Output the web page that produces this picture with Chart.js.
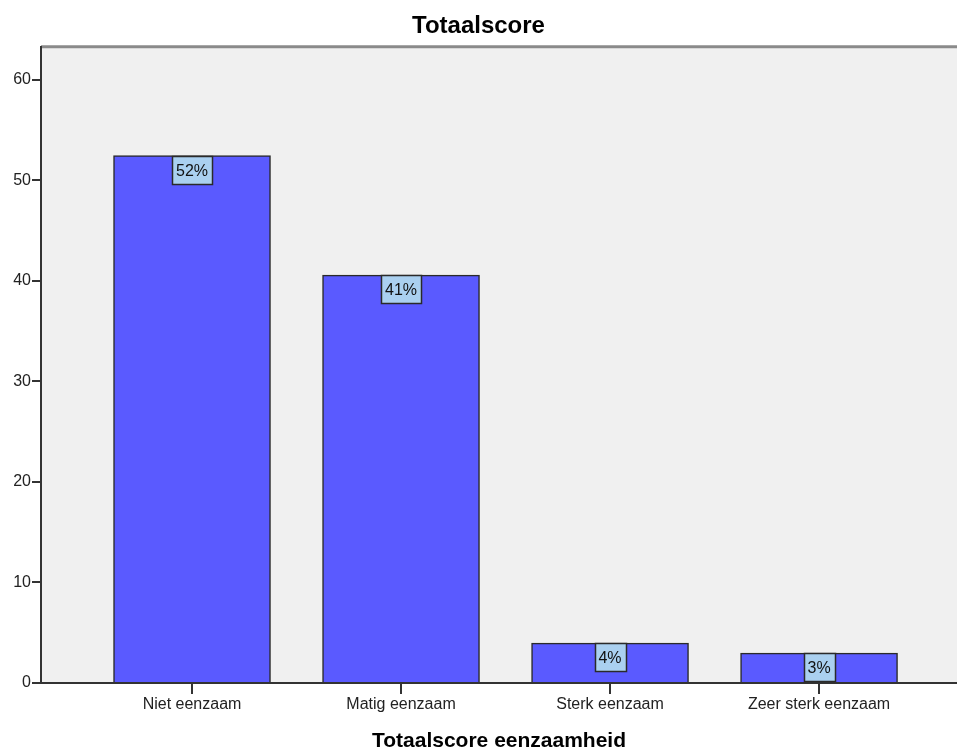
<!DOCTYPE html>
<html>
<head>
<meta charset="utf-8">
<script src="https://cdn.jsdelivr.net/npm/chart.js@4.4.0/dist/chart.umd.min.js"></script>
<style>
	html, body { margin: 0; padding: 0; background: #ffffff; }
	#wrap { width: 957px; height: 754px; }
</style>
</head>
<body>
<div id="wrap"><canvas id="chart"></canvas></div>
<script>
// |-----------|
// |   Data    |
// |-----------|

const categories = ['Niet eenzaam', 'Matig eenzaam', 'Sterk eenzaam', 'Zeer sterk eenzaam']
const percentages = [52.48, 40.59, 3.96, 2.97]
const bar_labels = ['52%', '41%', '4%', '3%']
const y_ticks = [0, 10, 20, 30, 40, 50, 60]

Chart.defaults.font.family = '"Liberation Sans", Arial, sans-serif'
Chart.defaults.font.size = 16
Chart.defaults.color = '#222'

// Fond gris de la zone du graphique + bordure haute
const plot_background = {
	id: 'plot_background',
	beforeDraw(chart) {
		const ctx = chart.ctx
		const a = chart.chartArea
		ctx.save()
		ctx.fillStyle = '#f0f0f0'
		ctx.fillRect(a.left, a.top, a.right - a.left, a.bottom - a.top)
		ctx.strokeStyle = '#8a8a8a'
		ctx.lineWidth = 3
		ctx.beginPath()
		ctx.moveTo(a.left, a.top)
		ctx.lineTo(a.right, a.top)
		ctx.stroke()
		ctx.restore()
	}
}

// Étiquettes de pourcentage en haut des barres
const bar_value_boxes = {
	id: 'bar_value_boxes',
	afterDatasetsDraw(chart) {
		const ctx = chart.ctx
		const meta = chart.getDatasetMeta(0)
		ctx.save()
		ctx.font = '16px "Liberation Sans", Arial, sans-serif'
		ctx.textAlign = 'center'
		ctx.textBaseline = 'middle'
		meta.data.forEach((bar, i) => {
			const text = bar_labels[i]
			const w = Math.round(ctx.measureText(text).width) + 8
			const h = 28
			const x = Math.round(bar.x - w / 2) + 0.5
			const y = Math.round(bar.y) + 0.5
			ctx.fillStyle = '#aad0f0'
			ctx.fillRect(x, y, w, h)
			ctx.strokeStyle = '#2a2a2a'
			ctx.lineWidth = 1.5
			ctx.strokeRect(x, y, w, h)
			ctx.fillStyle = '#111'
			ctx.fillText(text, bar.x, y + h / 2 + 1)
		})
		ctx.restore()
	}
}

const ctx = document.getElementById('chart')
new Chart(ctx, {
	type: 'bar',
	data: {
		datasets: [{
			data: percentages.map((v, i) => ({ x: i, y: v })),
			backgroundColor: '#5a5aff',
			borderColor: '#2a2a2a',
			borderWidth: 1.5,
			barThickness: 157
		}]
	},
	options: {
		responsive: true,
		maintainAspectRatio: false,
		animation: false,
		layout: { padding: 0 },
		plugins: {
			legend: { display: false },
			tooltip: { enabled: false },
			title: {
				display: true,
				text: 'Totaalscore',
				color: '#000',
				font: { size: 24, weight: 'bold' },
				padding: { top: 12, bottom: 6 }
			}
		},
		scales: {
			x: {
				type: 'linear',
				offset: false,
				min: -0.7225,
				max: 3.66,
				afterBuildTicks: (scale) => { scale.ticks = categories.map((c, i) => ({ value: i })) },
				afterFit: (scale) => { scale.height = 754 - 683 },
				ticks: {
					callback: (value) => categories[value],
					padding: 1,
					maxRotation: 0,
					autoSkip: false
				},
				grid: {
					offset: false,
					drawOnChartArea: false,
					drawTicks: true,
					tickLength: 11,
					lineWidth: 2,
					color: '#333'
				},
				border: { color: '#333', width: 2 },
				title: {
					display: true,
					text: 'Totaalscore eenzaamheid',
					color: '#000',
					font: { size: 21, weight: 'bold' },
					padding: { top: 0, bottom: 0 }
				}
			},
			y: {
				min: 0,
				max: 63.3,
				afterBuildTicks: (scale) => { scale.ticks = y_ticks.map((v) => ({ value: v })) },
				afterFit: (scale) => { scale.width = 41 },
				ticks: { padding: 1 },
				grid: {
					drawOnChartArea: false,
					drawTicks: true,
					tickLength: 9,
					lineWidth: 2,
					color: '#333'
				},
				border: { color: '#333', width: 2 }
			}
		}
	},
	plugins: [plot_background, bar_value_boxes]
})
</script>
</body>
</html>
